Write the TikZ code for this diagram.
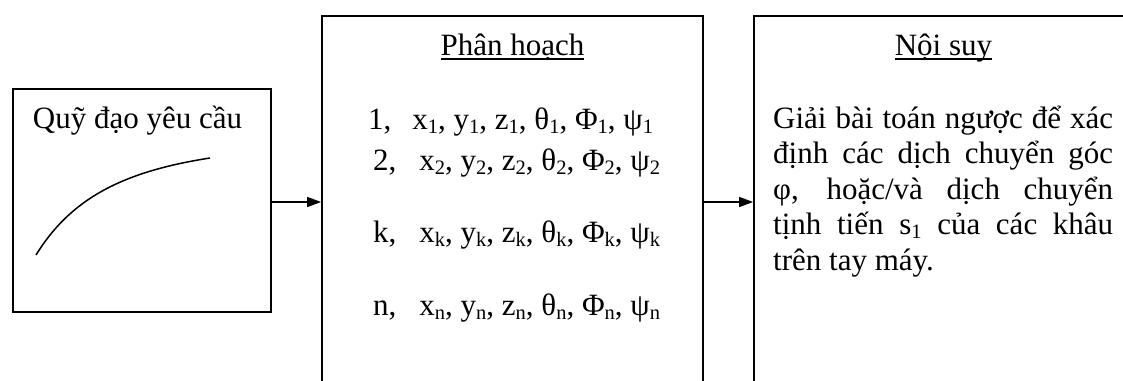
\documentclass[tikz,border=0pt]{standalone}
\usepackage{fontspec}
\setmainfont{Liberation Serif}
\usetikzlibrary{arrows.meta}
\newcommand\sbs[1]{\raisebox{-0.13em}{\fontsize{20.5}{20}\selectfont #1}}
\newcommand\myul[1]{\setbox0\hbox{#1}\rlap{\rule[-5pt]{\wd0}{1.6pt}}\box0}
\tikzset{
  blk/.style={draw, line width=1.8pt, inner sep=0pt, rectangle},
  txt/.style={inner sep=0pt, font=\fontsize{31}{35}\selectfont},
  conn/.style={line width=1.5pt, -{Triangle[length=14pt,width=10pt]}},
}
\begin{document}
\begin{tikzpicture}[x=1pt,y=-1pt]
\useasboundingbox (0,0) rectangle (1123,380);
\clip (0,0) rectangle (1123,380);
% boxes
\node[blk, minimum width=258pt, minimum height=223pt] (req) at (142,200.5) {};
\node[blk, minimum width=381pt, minimum height=404pt] (part) at (512.5,218) {};
\node[blk, minimum width=396pt, minimum height=404pt] (interp) at (952,218) {};
% left box content
\node[txt, anchor=base] (reqt) at (137.5,128) {Quỹ đạo yêu cầu};
\coordinate (c0) at (36,255);
\coordinate (c3) at (210,158);
\draw[line width=1.5pt] (c0) .. controls (70,200) and (120,172) .. (c3);
% middle box content
\node[txt, anchor=base] (parth) at (512.5,55) {\myul{Phân hoạch}};
\node[txt, anchor=base west] (row1) at (368,129) {1,\hspace{21pt}x\sbs{1}, y\sbs{1}, z\sbs{1}, θ\sbs{1}, Φ\sbs{1}, ψ\sbs{1}};
\node[txt, anchor=base west] (row2) at (373,170) {2,\hspace{23pt}x\sbs{2}, y\sbs{2}, z\sbs{2}, θ\sbs{2}, Φ\sbs{2}, ψ\sbs{2}};
\node[txt, anchor=base west] (rowk) at (373,242) {k,\hspace{23pt}x\sbs{k}, y\sbs{k}, z\sbs{k}, θ\sbs{k}, Φ\sbs{k}, ψ\sbs{k}};
\node[txt, anchor=base west] (rown) at (373,315) {n,\hspace{23pt}x\sbs{n}, y\sbs{n}, z\sbs{n}, θ\sbs{n}, Φ\sbs{n}, ψ\sbs{n}};
% right box content
\node[txt, anchor=base] (interph) at (943.5,55) {\myul{Nội suy}};
\node[txt, anchor=base west] (l1) at (773,128) {\makebox[340pt][s]{Giải bài toán ngược để xác}};
\node[txt, anchor=base west] (l2) at (773,163.5) {\makebox[340pt][s]{định các dịch chuyển góc}};
\node[txt, anchor=base west] (l3) at (773,199) {\makebox[340pt][s]{φ, hoặc/và dịch chuyển}};
\node[txt, anchor=base west] (l4) at (773,234.5) {\makebox[340pt][s]{tịnh tiến s\sbs{1} của các khâu}};
\node[txt, anchor=base west] (l5) at (773,270) {trên tay máy.};
% connectors
\coordinate (a1) at ([yshift=-1.5pt]req.east);
\draw[conn] (a1) -- (a1 -| part.west);
\draw[conn] (part.east |- a1) -- (interp.west |- a1);
\end{tikzpicture}
\end{document}
